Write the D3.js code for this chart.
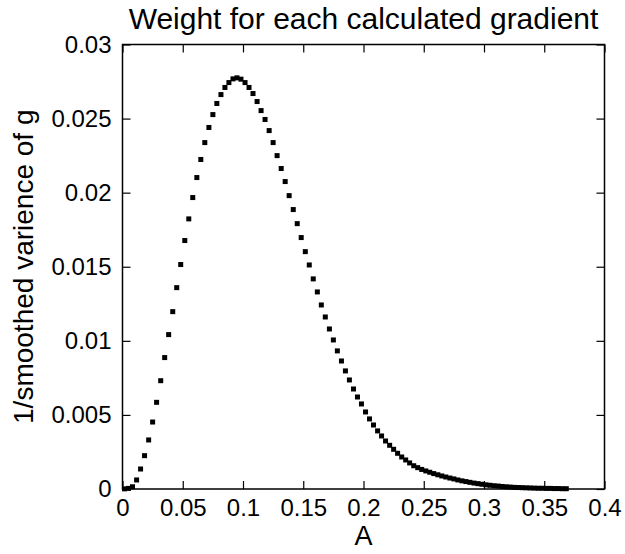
<!DOCTYPE html>
<html>
<head>
<meta charset="utf-8">
<script src="https://cdn.jsdelivr.net/npm/d3@7/dist/d3.min.js"></script>
<style>
  html, body { margin: 0; padding: 0; background: #fff; }
  svg { display: block; font-family: "Liberation Sans", Arial, Helvetica, sans-serif; }
</style>
</head>
<body>
<svg id="chart" width="625" height="554"></svg>
<script>
// ---- data ----
const chartTitle = "Weight for each calculated gradient";
const xLabel = "A";
const yLabel = "1/smoothed varience of g";
const xTicks = [0, 0.05, 0.1, 0.15, 0.2, 0.25, 0.3, 0.35, 0.4];
const yTicks = [0, 0.005, 0.01, 0.015, 0.02, 0.025, 0.03];
const xTickLabels = ["0", "0.05", "0.1", "0.15", "0.2", "0.25", "0.3", "0.35", "0.4"];
const yTickLabels = ["0", "0.005", "0.01", "0.015", "0.02", "0.025", "0.03"];

const aValues = [
  0.0017, 0.0050, 0.0083, 0.0117, 0.0150, 0.0183, 0.0217, 0.0250, 0.0283, 0.0317,
  0.0350, 0.0383, 0.0417, 0.0450, 0.0483, 0.0517, 0.0550, 0.0583, 0.0617, 0.0650,
  0.0683, 0.0717, 0.0750, 0.0783, 0.0817, 0.0850, 0.0883, 0.0917, 0.0950, 0.0983,
  0.1017, 0.1050, 0.1083, 0.1117, 0.1150, 0.1183, 0.1217, 0.1250, 0.1283, 0.1317,
  0.1350, 0.1383, 0.1417, 0.1450, 0.1483, 0.1517, 0.1550, 0.1583, 0.1617, 0.1650,
  0.1683, 0.1717, 0.1750, 0.1783, 0.1817, 0.1850, 0.1883, 0.1917, 0.1950, 0.1983,
  0.2017, 0.2050, 0.2083, 0.2117, 0.2150, 0.2183, 0.2217, 0.2250, 0.2283, 0.2317,
  0.2350, 0.2383, 0.2417, 0.2450, 0.2483, 0.2517, 0.2550, 0.2583, 0.2617, 0.2650,
  0.2683, 0.2717, 0.2750, 0.2783, 0.2817, 0.2850, 0.2883, 0.2917, 0.2950, 0.2983,
  0.3017, 0.3050, 0.3083, 0.3117, 0.3150, 0.3183, 0.3217, 0.3250, 0.3283, 0.3317,
  0.3350, 0.3383, 0.3417, 0.3450, 0.3483, 0.3517, 0.3550, 0.3583, 0.3617, 0.3650,
  0.3683
];

const weightValues = [
  0.00001, 0.00004, 0.00015, 0.00061, 0.00135, 0.00225, 0.00331, 0.00452, 0.00585, 0.00731,
  0.00887, 0.01042, 0.01197, 0.01359, 0.01515, 0.01677, 0.01823, 0.01967, 0.02102, 0.02224,
  0.02338, 0.02440, 0.02527, 0.02602, 0.02662, 0.02710, 0.02743, 0.02768, 0.02775, 0.02766,
  0.02743, 0.02710, 0.02669, 0.02615, 0.02554, 0.02494, 0.02419, 0.02338, 0.02250, 0.02163,
  0.02075, 0.01980, 0.01886, 0.01791, 0.01697, 0.01602, 0.01512, 0.01418, 0.01330, 0.01242,
  0.01161, 0.01080, 0.01006, 0.00932, 0.00864, 0.00797, 0.00736, 0.00675, 0.00621, 0.00574,
  0.00520, 0.00473, 0.00432, 0.00392, 0.00358, 0.00324, 0.00295, 0.00268, 0.00241, 0.00216,
  0.00196, 0.00176, 0.00157, 0.00144, 0.00132, 0.00122, 0.00113, 0.00104, 0.00096, 0.00088,
  0.00081, 0.00074, 0.00068, 0.00061, 0.00055, 0.00050, 0.00045, 0.00040, 0.00036, 0.00032,
  0.00028, 0.00025, 0.00022, 0.00020, 0.00017, 0.00015, 0.00013, 0.00011, 0.00010, 0.00009,
  0.00008, 0.00007, 0.00006, 0.00005, 0.00005, 0.00004, 0.00004, 0.00003, 0.00003, 0.00002,
  0.00002
];

// ---- layout ----
const svg = d3.select("#chart");
const plot = { left: 122.5, right: 604.5, top: 44.5, bottom: 489 };
const x = d3.scaleLinear().domain([0, 0.4]).range([plot.left, plot.right]);
const y = d3.scaleLinear().domain([0, 0.03]).range([plot.bottom, plot.top]);
const tickLen = 8;
const marker = 5;

// points
const points = aValues.map((a, i) => ({ a, w: weightValues[i] }));
svg.append("g").selectAll("rect").data(points).join("rect")
  .attr("x", d => x(d.a) - marker / 2)
  .attr("y", d => y(d.w) - marker / 2)
  .attr("width", marker)
  .attr("height", marker)
  .attr("fill", "#000");

// axes (ticks inward, mirrored)
const fmtX = (d, i) => xTickLabels[i];
const fmtY = (d, i) => yTickLabels[i];

const bottomAxis = d3.axisBottom(x).tickValues(xTicks).tickFormat(fmtX)
  .tickSizeInner(-tickLen).tickSizeOuter(0).tickPadding(10);
const topAxis = d3.axisTop(x).tickValues(xTicks).tickFormat("")
  .tickSizeInner(-tickLen).tickSizeOuter(0);
const leftAxis = d3.axisLeft(y).tickValues(yTicks).tickFormat(fmtY)
  .tickSizeInner(-tickLen).tickSizeOuter(0).tickPadding(11);
const rightAxis = d3.axisRight(y).tickValues(yTicks).tickFormat("")
  .tickSizeInner(-tickLen).tickSizeOuter(0);

function style(g, fs) {
  g.select(".domain").remove();
  g.selectAll(".tick line").attr("stroke", "#000").attr("stroke-width", 1.2);
  g.selectAll(".tick text").attr("fill", "#000").attr("font-size", fs)
    .attr("font-family", "'Liberation Sans', Arial, sans-serif");
}

svg.append("g").attr("transform", `translate(0,${plot.bottom})`).call(bottomAxis).call(g => style(g, 24));
svg.append("g").attr("transform", `translate(0,${plot.top})`).call(topAxis).call(g => style(g, 24));
svg.append("g").attr("transform", `translate(${plot.left},0)`).call(leftAxis).call(g => style(g, 24));
svg.append("g").attr("transform", `translate(${plot.right},0)`).call(rightAxis).call(g => style(g, 24));

// frame
svg.append("rect")
  .attr("x", plot.left).attr("y", plot.top)
  .attr("width", plot.right - plot.left).attr("height", plot.bottom - plot.top)
  .attr("fill", "none").attr("stroke", "#000").attr("stroke-width", 1.5);

// title
svg.append("text")
  .attr("x", (plot.left + plot.right) / 2).attr("y", 29)
  .attr("text-anchor", "middle").attr("font-size", 30).attr("fill", "#000")
  .text(chartTitle);

// x label
svg.append("text")
  .attr("x", (plot.left + plot.right) / 2).attr("y", 545)
  .attr("text-anchor", "middle").attr("font-size", 27).attr("fill", "#000")
  .text(xLabel);

// y label
svg.append("text")
  .attr("transform", `translate(33,${(plot.top + plot.bottom) / 2}) rotate(-90)`)
  .attr("text-anchor", "middle").attr("font-size", 28).attr("fill", "#000")
  .text(yLabel);
</script>
</body>
</html>
